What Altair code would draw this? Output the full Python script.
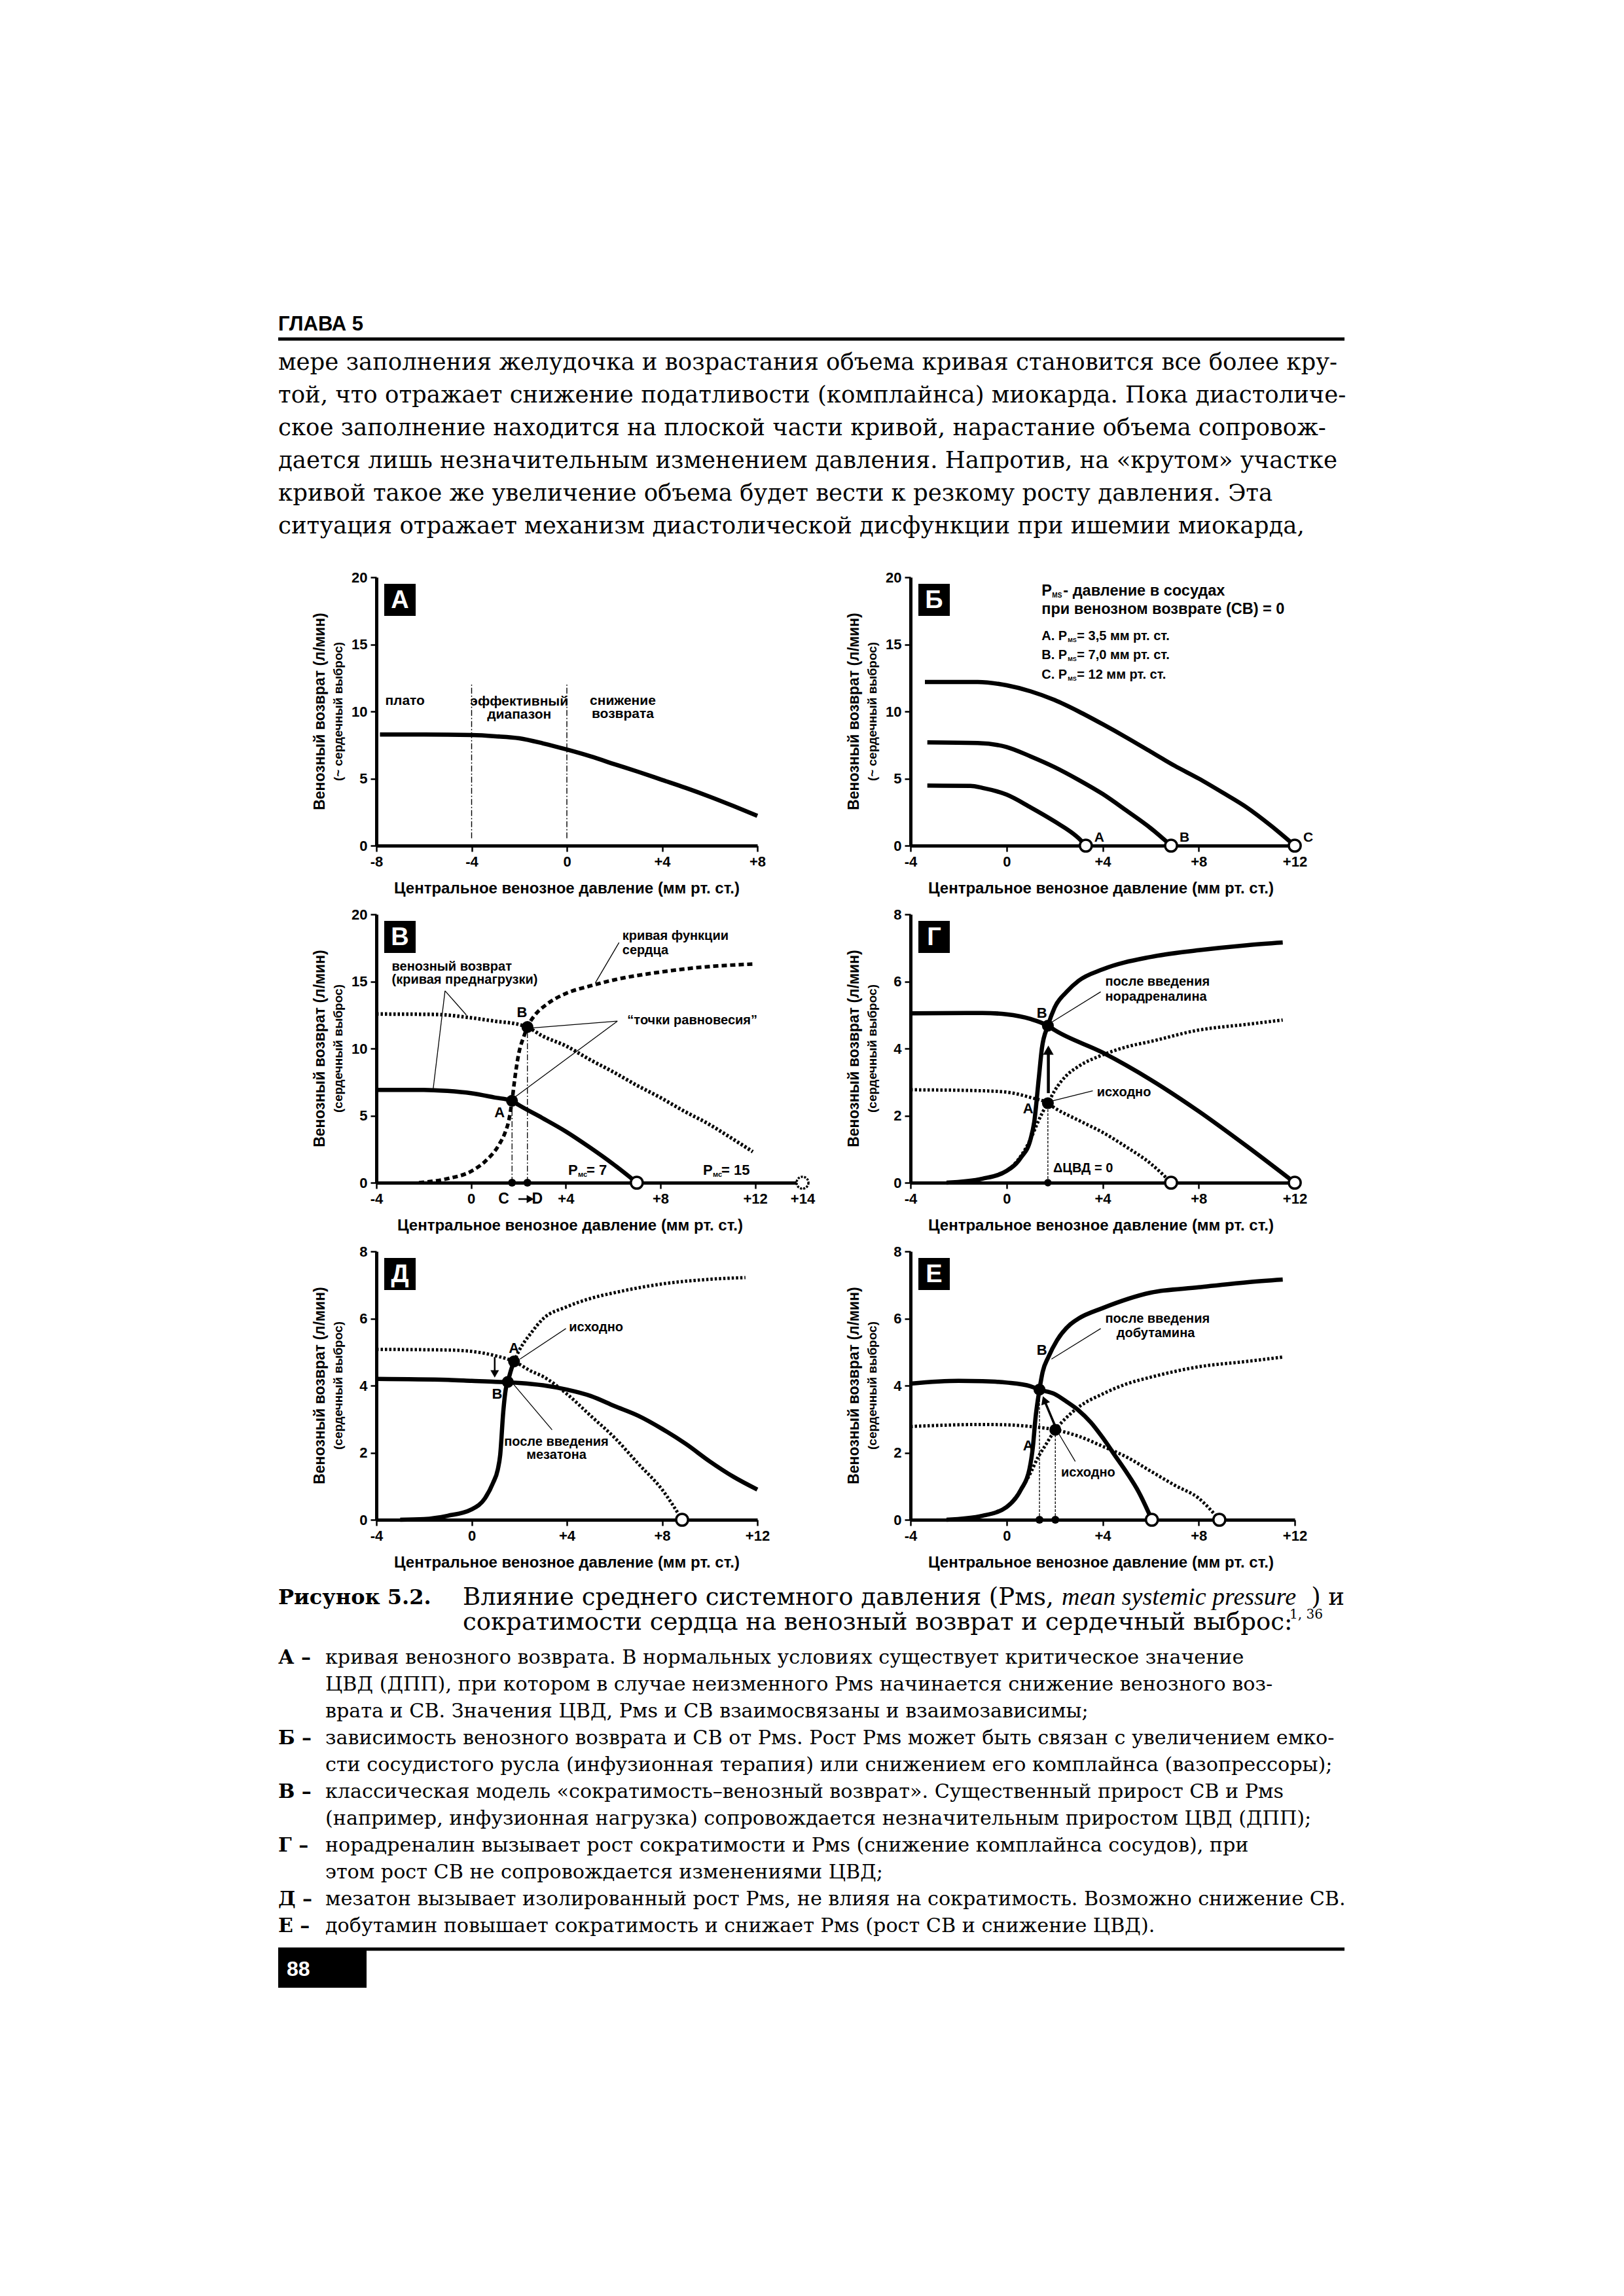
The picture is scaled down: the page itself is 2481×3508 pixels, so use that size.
import altair as alt
import pandas as pd

SERIF = "DejaVu Serif"
SANS = "Liberation Sans, Arial, sans-serif"

# ======================= page text =======================
CHAPTER = "ГЛАВА 5"
BODY_LINES = [
    "мере заполнения желудочка и возрастания объема кривая становится все более кру-",
    "той, что отражает снижение податливости (комплайнса) миокарда. Пока диастоличе-",
    "ское заполнение находится на плоской части кривой, нарастание объема сопровож-",
    "дается лишь незначительным изменением давления. Напротив, на «крутом» участке",
    "кривой такое же увеличение объема будет вести к резкому росту давления. Эта",
    "ситуация отражает механизм диастолической дисфункции при ишемии миокарда,",
]
FIG_LABEL = "Рисунок 5.2."
FIG_TITLE_1A = "Влияние среднего системного давления (Pмѕ,"
FIG_TITLE_1I = "mean systemic pressure"
FIG_TITLE_1B = ") и"
FIG_TITLE_2 = "сократимости сердца на венозный возврат и сердечный выброс:"
FIG_REFS = "1, 36"
ITEM_KEYS = ["А –", "Б –", "В –", "Г –", "Д –", "Е –"]
ITEM_TEXT = [
    ["кривая венозного возврата. В нормальных условиях существует критическое значение",
     "ЦВД (ДПП), при котором в случае неизменного Pмѕ начинается снижение венозного воз-",
     "врата и СВ. Значения ЦВД, Pмѕ и СВ взаимосвязаны и взаимозависимы;"],
    ["зависимость венозного возврата и СВ от Pмѕ. Рост Pмѕ может быть связан с увеличением емко-",
     "сти сосудистого русла (инфузионная терапия) или снижением его комплайнса (вазопрессоры);"],
    ["классическая модель «сократимость–венозный возврат». Существенный прирост СВ и Pмѕ",
     "(например, инфузионная нагрузка) сопровождается незначительным приростом ЦВД (ДПП);"],
    ["норадреналин вызывает рост сократимости и Pмѕ (снижение комплайнса сосудов), при",
     "этом рост СВ не сопровождается изменениями ЦВД;"],
    ["мезатон вызывает изолированный рост Pмѕ, не влияя на сократимость. Возможно снижение СВ."],
    ["добутамин повышает сократимость и снижает Pмѕ (рост СВ и снижение ЦВД)."],
]
PAGE_NO = "88"

Y_TITLE = "Венозный возврат (л/мин)"
Y_SUB_APPROX = "(~ сердечный выброс)"
Y_SUB = "(сердечный выброс)"
X_TITLE = "Центральное венозное давление (мм рт. ст.)"

# ======================= panel data =======================
# A
A_CVP = [-7.85, -6, -4, -3, -2, -1, 0, 1, 2, 3, 4, 5, 6, 7, 8]
A_VR = [8.28, 8.28, 8.24, 8.15, 8.0, 7.62, 7.16, 6.65, 6.07, 5.5, 4.9, 4.3, 3.65, 2.95, 2.22]
A_ZONE_BOUNDS = [-4, 0]
A_ZONE_TEXT = ["плато", "эффективный", "диапазон", "снижение", "возврата"]
A_ZONE_X = [-6.8, -2.0, -2.0, 2.35, 2.35]
A_ZONE_Y = [10.8, 10.75, 9.75, 10.8, 9.8]

# Б
B_A_X = [-3.3, -1.5, -1, 0, 1, 2, 3, 3.3]
B_A_Y = [4.47, 4.45, 4.3, 3.8, 2.85, 1.8, 0.55, 0]
B_B_X = [-3.3, -1.2, 0, 1, 2, 3, 4, 5, 6, 6.85]
B_B_Y = [7.7, 7.65, 7.35, 6.65, 5.85, 4.9, 3.85, 2.6, 1.3, 0]
B_C_X = [-3.4, -1.2, 0, 1, 2, 3, 4, 5, 6, 7, 8, 9, 10, 11, 12]
B_C_Y = [12.2, 12.2, 11.95, 11.5, 10.85, 10.0, 9.05, 8.05, 7.0, 5.95, 5.0, 3.95, 2.85, 1.5, 0]
B_PMS = [3.3, 6.85, 12]
B_PMS_NAMES = ["A", "B", "C"]
B_LEG_X = 1.46
B_LEG_HEAD = ["P", "MS", " - давление в сосудах", "при венозном возврате (СВ) = 0"]
B_LEG_Y = [19.0, 17.6]
B_LEG_ITEMS = [("A. P", " = 3,5 мм рт. ст."), ("B. P", " = 7,0 мм рт. ст."), ("C. P", " = 12 мм рт. ст.")]
B_LEG_ITEM_Y = [15.6, 14.2, 12.75]

# В
V_VR7_X = [-4, -2, -1, 0, 1, 1.73, 2, 3, 4, 5, 6, 7]
V_VR7_Y = [6.92, 6.92, 6.84, 6.67, 6.35, 6.1, 5.8, 4.83, 3.82, 2.65, 1.39, 0]
V_VR15_X = [-4, -1.5, 0, 1, 2, 2.38, 3, 4, 5, 6, 7, 8, 9, 10, 11, 11.9]
V_VR15_Y = [12.57, 12.54, 12.29, 12.04, 11.8, 11.6, 10.95, 10.2, 9.19, 8.26, 7.26, 6.34, 5.33, 4.41, 3.32, 2.31]
V_CF_X = [-2.2, -1, 0, 0.6, 1.17, 1.45, 1.59, 1.73, 1.85, 2.0, 2.25, 2.38, 2.7, 3.2, 4, 5, 6, 8, 10, 12]
V_CF_Y = [0, 0.3, 0.85, 1.6, 2.8, 3.8, 4.6, 6.1, 7.8, 9.5, 11.0, 11.6, 12.5, 13.3, 14.1, 14.65, 15.1, 15.7, 16.1, 16.3]
V_EQ_X = [1.73, 2.38]
V_EQ_Y = [6.1, 11.6]
V_PMS = [7, 14]

# Г
G_VR1_X = [-4, -1, 0, 1, 1.72, 2, 4, 6, 8, 10, 12]
G_VR1_Y = [5.05, 5.06, 5.02, 4.88, 4.68, 4.55, 3.88, 3.07, 2.13, 1.09, 0]
G_VR0_X = [-4, -1, 0, 1, 1.72, 2, 3, 4, 5, 6, 6.5, 6.85]
G_VR0_Y = [2.77, 2.74, 2.70, 2.54, 2.37, 2.23, 1.86, 1.5, 1.06, 0.57, 0.25, 0]
G_CF1_X = [-2.5, -1, 0, 0.6, 1.0, 1.15, 1.34, 1.47, 1.72, 2.0, 2.5, 3, 4, 6, 8, 10, 11.5]
G_CF1_Y = [0, 0.12, 0.35, 0.75, 1.3, 1.8, 3.1, 4.0, 4.68, 5.22, 5.69, 6.02, 6.36, 6.73, 6.93, 7.08, 7.16]
G_CF0_X = [-2.5, -1, 0, 0.6, 1.0, 1.3, 1.5, 1.72, 2, 2.5, 3, 4, 5, 6, 8, 10, 11.5]
G_CF0_Y = [0, 0.12, 0.35, 0.8, 1.3, 1.8, 2.1, 2.37, 2.74, 3.2, 3.47, 3.81, 4.05, 4.21, 4.55, 4.72, 4.85]
G_EQ_X = [1.72, 1.72]
G_EQ_Y = [2.37, 4.68]
G_PMS = [6.85, 12]

# Д
D_VR0_X = [-4, -1, 0, 1, 1.78, 2.5, 3, 4, 5, 6, 7, 8, 8.84]
D_VR0_Y = [5.08, 5.06, 5.02, 4.89, 4.72, 4.43, 4.27, 3.75, 3.10, 2.45, 1.67, 0.9, 0]
D_VR1_X = [-4, -1, 0, 1, 1.52, 2, 3, 4, 5, 6, 7, 8, 9, 10, 11, 12]
D_VR1_Y = [4.2, 4.17, 4.14, 4.11, 4.1, 4.08, 4.01, 3.88, 3.69, 3.39, 3.10, 2.71, 2.26, 1.74, 1.28, 0.9]
D_CF_LOW_X = [-3, -2, -1, 0, 0.56, 0.9, 1.1, 1.2, 1.33, 1.43, 1.52, 1.65, 1.78]
D_CF_LOW_Y = [0, 0.02, 0.12, 0.31, 0.64, 1.1, 1.5, 1.93, 3.23, 3.88, 4.11, 4.45, 4.72]
D_CF_HIGH_X = [1.78, 2, 2.5, 3, 4, 5, 6, 8, 10, 11.5]
D_CF_HIGH_Y = [4.72, 5.05, 5.57, 5.99, 6.35, 6.6, 6.77, 7.03, 7.17, 7.22]
D_EQ_X = [1.78, 1.52]
D_EQ_Y = [4.72, 4.11]
D_PMS = [8.84]

# Е
E_VR1_X = [-4, -2, -1, 0, 1, 1.37, 2, 2.5, 3, 3.5, 4, 4.5, 5, 5.5, 6.05]
E_VR1_Y = [4.06, 4.14, 4.13, 4.09, 3.98, 3.88, 3.75, 3.52, 3.26, 2.91, 2.45, 1.93, 1.41, 0.83, 0]
E_VR0_X = [-4, -1, 0, 1, 2.03, 3, 4, 5, 6, 7, 8, 8.86]
E_VR0_Y = [2.78, 2.84, 2.83, 2.78, 2.68, 2.49, 2.19, 1.87, 1.45, 1.03, 0.64, 0]
E_CF1_X = [-2.5, -1, 0, 0.6, 0.95, 1.1, 1.2, 1.37, 1.5, 1.74, 2.1, 2.66, 3, 4, 6, 8, 10, 11.5]
E_CF1_Y = [0, 0.12, 0.38, 0.9, 1.5, 2.2, 3.0, 3.88, 4.4, 4.85, 5.35, 5.83, 6.0, 6.31, 6.77, 6.93, 7.08, 7.16]
E_CF0_X = [-2.5, -1, 0, 0.6, 1.0, 1.3, 1.6, 2.03, 2.5, 3, 4, 5, 6, 8, 10, 11.5]
E_CF0_Y = [0, 0.12, 0.38, 0.9, 1.4, 1.85, 2.2, 2.68, 3.05, 3.36, 3.75, 4.05, 4.25, 4.56, 4.72, 4.85]
E_EQ_X = [2.03, 1.37]
E_EQ_Y = [2.68, 3.88]
E_PMS = [6.05, 8.86]

# ======================= helpers =======================
def one():
    return pd.DataFrame({"k": [0]})


def df_xy(xs, ys):
    return pd.DataFrame({"x": xs, "y": ys})


def axes(xdom, xticks, ydom, yticks):
    common = dict(grid=False, title=None, domainColor="black", domainWidth=5,
                  tickColor="black", tickWidth=2.5, tickSize=9,
                  labelFont=SANS, labelFontSize=22, labelFontWeight="bold",
                  labelColor="black", labelOverlap=False, labelFlush=False, labelPadding=5)
    X = alt.X("x:Q", scale=alt.Scale(domain=xdom, nice=False, zero=False),
              axis=alt.Axis(values=xticks,
                            labelExpr="datum.value > 0 ? '+' + datum.value : '' + datum.value",
                            **common))
    Y = alt.Y("y:Q", scale=alt.Scale(domain=ydom, nice=False, zero=False),
              axis=alt.Axis(values=yticks, **common))
    return X, Y


def curve(X, Y, xs, ys, width=6.0, dash=None):
    kw = dict(color="black", strokeWidth=width, interpolate="monotone")
    if dash is not None:
        kw["strokeDash"] = dash
    return alt.Chart(df_xy(xs, ys)).mark_line(**kw).encode(x=X, y=Y)


def segs(X, Y, rows, width=1.3, dash=None):
    df = pd.DataFrame(rows, columns=["x", "y", "x2", "y2"])
    kw = dict(color="black", strokeWidth=width)
    if dash is not None:
        kw["strokeDash"] = dash
    return alt.Chart(df).mark_rule(**kw).encode(x=X, y=Y, x2="x2:Q", y2="y2:Q")


def dots(X, Y, xs, ys, size=260, fill="black", sw=0.0, dash=None):
    kw = dict(shape="circle", filled=True, fill=fill, stroke="black",
              strokeWidth=sw, size=size, opacity=1)
    if dash is not None:
        kw["strokeDash"] = dash
    return alt.Chart(df_xy(xs, ys)).mark_point(**kw).encode(x=X, y=Y)


def head(X, Y, x, y, angle, size=230):
    return alt.Chart(df_xy([x], [y])).mark_point(
        shape="triangle-up", filled=True, color="black", size=size, angle=angle, opacity=1
    ).encode(x=X, y=Y)


def labels(X, Y, xs, ys, texts, size=20, align="left", dx=0, dy=0):
    df = pd.DataFrame({"x": xs, "y": ys, "t": texts})
    return alt.Chart(df).mark_text(font=SANS, fontSize=size, fontWeight="bold", align=align,
                                   baseline="middle", dx=dx, dy=dy, color="black"
                                   ).encode(x=X, y=Y, text="t:N")


def frame(letter, h, sub, xcenter):
    return [
        alt.Chart(one()).mark_rect(color="black").encode(
            x=alt.value(12), x2=alt.value(60), y=alt.value(10), y2=alt.value(59)),
        alt.Chart(one()).mark_text(text=letter, color="white", font=SANS, fontWeight="bold",
                                   fontSize=38, align="center", baseline="middle"
                                   ).encode(x=alt.value(36), y=alt.value(36)),
        alt.Chart(one()).mark_text(text=Y_TITLE, angle=270, font=SANS, fontWeight="bold",
                                   fontSize=23, align="center", baseline="middle", color="black"
                                   ).encode(x=alt.value(-86), y=alt.value(h / 2)),
        alt.Chart(one()).mark_text(text=sub, angle=270, font=SANS, fontWeight="bold",
                                   fontSize=19, align="center", baseline="middle", color="black"
                                   ).encode(x=alt.value(-58), y=alt.value(h / 2)),
        alt.Chart(one()).mark_text(text=X_TITLE, font=SANS, fontWeight="bold", fontSize=24,
                                   align="center", baseline="middle", color="black"
                                   ).encode(x=alt.value(xcenter), y=alt.value(h + 66)),
    ]


def spacer(w, h):
    return alt.Chart(one()).mark_point(opacity=0).encode(
        x=alt.value(0), y=alt.value(0)).properties(width=w, height=h)


def page_text(df, size, font=SERIF, weight="normal", style="normal", align="left",
              color="black", baseline="middle"):
    return alt.Chart(df).mark_text(font=font, fontSize=size, fontWeight=weight, fontStyle=style,
                                   align=align, baseline=baseline, color=color
                                   ).encode(x=alt.X("px:Q", scale=None, axis=None),
                                            y=alt.Y("py:Q", scale=None, axis=None),
                                            text="t:N")


def tdf(texts, xs, ys):
    return pd.DataFrame({"t": texts, "px": xs, "py": ys})


# ======================= page grid =======================
PAGE_W, PAGE_H = 2481, 3508
COL1_X, COL2_X = 575, 1391          # page x of the two plot columns
PW, PH, VW, RW = 582, 410, 651, 587  # plot sizes
GAP_ROW = 105
HEAD_H = 879 - GAP_ROW
CAP_TOP = 879 + 3 * (PH + GAP_ROW)
CAP_H = PAGE_H - CAP_TOP

THIN = 1.3
DASHDOT = [9, 3, 2, 3]
DOT = [3.5, 3]

# ======================= panel A =======================
X, Y = axes([-8, 8], [-8, -4, 0, 4, 8], [0, 20], [0, 5, 10, 15, 20])
panel_A = alt.layer(
    segs(X, Y, [(b, 0.55, b, 12.0) for b in A_ZONE_BOUNDS], width=1.4, dash=DASHDOT),
    curve(X, Y, A_CVP, A_VR, width=6.5),
    labels(X, Y, A_ZONE_X, A_ZONE_Y, A_ZONE_TEXT, size=21, align="center"),
    *frame("A", PH, Y_SUB_APPROX, PW / 2),
).properties(width=PW, height=PH)

# ======================= panel Б =======================
X, Y = axes([-4, 12], [-4, 0, 4, 8, 12], [0, 20], [0, 5, 10, 15, 20])
leg = [
    labels(X, Y, [B_LEG_X], [B_LEG_Y[0]], [B_LEG_HEAD[0]], size=23.5),
    labels(X, Y, [B_LEG_X], [B_LEG_Y[0]], [B_LEG_HEAD[1]], size=10, dx=16, dy=7),
    labels(X, Y, [B_LEG_X], [B_LEG_Y[0]], [B_LEG_HEAD[2]], size=23.5, dx=33),
    labels(X, Y, [B_LEG_X], [B_LEG_Y[1]], [B_LEG_HEAD[3]], size=23.5),
    labels(X, Y, [B_LEG_X] * 3, B_LEG_ITEM_Y, [a for a, _ in B_LEG_ITEMS], size=20),
    labels(X, Y, [B_LEG_X] * 3, B_LEG_ITEM_Y, ["MS"] * 3, size=9, dx=40, dy=6),
    labels(X, Y, [B_LEG_X] * 3, B_LEG_ITEM_Y, [b for _, b in B_LEG_ITEMS], size=20, dx=54),
]
panel_B = alt.layer(
    curve(X, Y, B_A_X, B_A_Y, width=6.5),
    curve(X, Y, B_B_X, B_B_Y, width=6.5),
    curve(X, Y, B_C_X, B_C_Y, width=6.5),
    dots(X, Y, B_PMS, [0, 0, 0], size=330, fill="white", sw=3.5),
    labels(X, Y, B_PMS, [0, 0, 0], B_PMS_NAMES, size=21, dx=13, dy=-12),
    *leg,
    *frame("Б", PH, Y_SUB_APPROX, PW / 2),
).properties(width=RW, height=PH)

# ======================= panel В =======================
X, Y = axes([-4, 14], [-4, 0, 4, 8, 12, 14], [0, 20], [0, 5, 10, 15, 20])
cd = pd.DataFrame({"x": [V_EQ_X[0] + 0.27], "x2": [V_EQ_X[1] + 0.05]})
panel_V = alt.layer(
    segs(X, Y, [(x, 0, x, y) for x, y in zip(V_EQ_X, V_EQ_Y)], width=THIN, dash=DASHDOT),
    curve(X, Y, V_VR7_X, V_VR7_Y, width=6.5),
    curve(X, Y, V_VR15_X, V_VR15_Y, width=5.5, dash=DOT),
    curve(X, Y, V_CF_X, V_CF_Y, width=5.5, dash=[8, 5]),
    segs(X, Y, [(-1.1, 14.3, -1.6, 7.0), (-1.1, 14.3, -0.2, 12.5),
                (6.25, 17.9, 5.25, 14.9),
                (6.18, 12.04, 2.56, 11.53), (6.18, 12.04, 1.87, 6.4)], width=THIN),
    dots(X, Y, V_EQ_X, V_EQ_Y, size=330),
    dots(X, Y, V_EQ_X, [0, 0], size=150),
    dots(X, Y, [V_PMS[0]], [0], size=330, fill="white", sw=3.5),
    dots(X, Y, [V_PMS[1]], [0], size=330, fill="white", sw=3.5, dash=[3, 2]),
    labels(X, Y, [-3.35, -3.35, 6.39, 6.39, 6.6],
           [16.1, 15.1, 18.4, 17.3, 12.1],
           ["венозный возврат", "(кривая преднагрузки)", "кривая функции", "сердца",
            "“точки равновесия”"], size=20),
    labels(X, Y, [2.15, 1.2], [12.7, 5.2], ["B", "A"], size=22, align="center"),
    labels(X, Y, [4.1, 9.8], [0.95, 0.95], ["P", "P"], size=22),
    labels(X, Y, [4.1, 9.8], [0.95, 0.95], ["мс", "мс"], size=11, dx=15, dy=7),
    labels(X, Y, [4.1, 9.8], [0.95, 0.95], [" = 7", " = 15"], size=22, dx=28),
    labels(X, Y, [1.38, 2.8], [0, 0], ["C", "D"], size=23, align="center", dy=25),
    alt.Chart(cd).mark_rule(color="black", strokeWidth=2.5).encode(
        x=X, x2="x2:Q", y=alt.value(PH + 25)),
    alt.Chart(pd.DataFrame({"x": [V_EQ_X[1] + 0.12]})).mark_point(
        shape="triangle-up", filled=True, color="black", size=160, angle=90, opacity=1
    ).encode(x=X, y=alt.value(PH + 25)),
    *frame("В", PH, Y_SUB, 296),
).properties(width=VW, height=PH)

# ======================= panel Г =======================
X, Y = axes([-4, 12], [-4, 0, 4, 8, 12], [0, 8], [0, 2, 4, 6, 8])
panel_G = alt.layer(
    segs(X, Y, [(G_EQ_X[0], 0, G_EQ_X[0], G_EQ_Y[0])], width=THIN, dash=[4, 2]),
    curve(X, Y, G_VR0_X, G_VR0_Y, width=5.0, dash=DOT),
    curve(X, Y, G_CF0_X, G_CF0_Y, width=5.0, dash=DOT),
    curve(X, Y, G_VR1_X, G_VR1_Y, width=6.5),
    curve(X, Y, G_CF1_X, G_CF1_Y, width=6.5),
    segs(X, Y, [(1.74, 2.67, 1.74, 3.85)], width=4.5),
    head(X, Y, 1.74, 3.95, 0, size=260),
    segs(X, Y, [(3.92, 5.69, 1.87, 4.78), (3.59, 2.74, 1.87, 2.43)], width=THIN),
    dots(X, Y, G_EQ_X, G_EQ_Y, size=330),
    dots(X, Y, [G_EQ_X[0]], [0], size=130),
    dots(X, Y, G_PMS, [0, 0], size=330, fill="white", sw=3.5),
    labels(X, Y, [4.11, 4.11, 3.76, 1.94], [5.99, 5.55, 2.7, 0.42],
           ["после введения", "норадреналина", "исходно", "ΔЦВД = 0"], size=20),
    labels(X, Y, [0.9, 1.47], [2.2, 5.05], ["A", "B"], size=22, align="center"),
    *frame("Г", PH, Y_SUB, PW / 2),
).properties(width=RW, height=PH)

# ======================= panel Д =======================
X, Y = axes([-4, 12], [-4, 0, 4, 8, 12], [0, 8], [0, 2, 4, 6, 8])
panel_D = alt.layer(
    curve(X, Y, D_VR0_X, D_VR0_Y, width=5.0, dash=DOT),
    curve(X, Y, D_CF_HIGH_X, D_CF_HIGH_Y, width=5.0, dash=DOT),
    curve(X, Y, D_VR1_X, D_VR1_Y, width=6.5),
    curve(X, Y, D_CF_LOW_X, D_CF_LOW_Y, width=6.5),
    segs(X, Y, [(0.97, 4.85, 0.97, 4.42)], width=2.5),
    head(X, Y, 0.97, 4.35, 180, size=170),
    segs(X, Y, [(3.96, 5.7, 2.03, 4.79), (3.38, 2.68, 1.71, 4.08)], width=THIN),
    dots(X, Y, D_EQ_X, D_EQ_Y, size=330),
    dots(X, Y, D_PMS, [0], size=330, fill="white", sw=3.5),
    labels(X, Y, [4.09], [5.73], ["исходно"], size=20),
    labels(X, Y, [3.56, 3.56], [2.32, 1.93], ["после введения", "мезатона"], size=20,
           align="center"),
    labels(X, Y, [1.78, 1.07], [5.12, 3.75], ["A", "B"], size=22, align="center"),
    *frame("Д", PH, Y_SUB, PW / 2),
).properties(width=PW, height=PH)

# ======================= panel Е =======================
X, Y = axes([-4, 12], [-4, 0, 4, 8, 12], [0, 8], [0, 2, 4, 6, 8])
panel_E = alt.layer(
    segs(X, Y, [(x, 0, x, y) for x, y in zip(E_EQ_X, E_EQ_Y)], width=THIN, dash=[4, 2]),
    curve(X, Y, E_VR0_X, E_VR0_Y, width=5.0, dash=DOT),
    curve(X, Y, E_CF0_X, E_CF0_Y, width=5.0, dash=DOT),
    curve(X, Y, E_VR1_X, E_VR1_Y, width=6.5),
    curve(X, Y, E_CF1_X, E_CF1_Y, width=6.5),
    segs(X, Y, [(2.03, 2.78, 1.62, 3.48)], width=3.5),
    head(X, Y, 1.57, 3.57, 339, size=200),
    segs(X, Y, [(3.92, 5.7, 1.87, 4.79), (2.86, 1.74, 2.13, 2.62)], width=THIN),
    dots(X, Y, E_EQ_X, E_EQ_Y, size=330),
    dots(X, Y, E_EQ_X, [0, 0], size=150),
    dots(X, Y, E_PMS, [0, 0], size=330, fill="white", sw=3.5),
    labels(X, Y, [4.11, 4.58, 2.27], [5.99, 5.57, 1.41],
           ["после введения", "добутамина", "исходно"], size=20),
    labels(X, Y, [0.9, 1.47], [2.2, 5.05], ["A", "B"], size=22, align="center"),
    *frame("Е", PH, Y_SUB, PW / 2),
).properties(width=RW, height=PH)

# ======================= header cell (page coords shifted by column origin) =======================
hx = lambda x: x - COL1_X
header = alt.layer(
    alt.Chart(one()).mark_rect(color="white").encode(
        x=alt.value(hx(0)), x2=alt.value(hx(PAGE_W)), y=alt.value(0), y2=alt.value(2)),
    page_text(tdf([CHAPTER], [hx(425)], [493]), 31, font=SANS, weight="bold"),
    alt.Chart(one()).mark_rule(color="black", strokeWidth=5).encode(
        x=alt.value(hx(425)), x2=alt.value(hx(2054)), y=alt.value(515)),
    page_text(tdf(BODY_LINES, [hx(425)] * len(BODY_LINES),
                  [551 + 50 * i for i in range(len(BODY_LINES))]), 35.5),
).properties(width=VW, height=HEAD_H)

# ======================= caption cell =======================
cy = lambda y: y - CAP_TOP
cap_rows = []
k = 0
for key, lines in zip(ITEM_KEYS, ITEM_TEXT):
    for j, ln in enumerate(lines):
        cap_rows.append((key if j == 0 else "", ln, cy(2530 + 41 * k)))
        k += 1
keys_df = tdf([r[0] for r in cap_rows if r[0]], [hx(425)] * len(ITEM_KEYS),
              [r[2] for r in cap_rows if r[0]])
items_df = tdf([r[1] for r in cap_rows], [hx(497)] * len(cap_rows), [r[2] for r in cap_rows])
caption = alt.layer(
    page_text(tdf([FIG_LABEL], [hx(425)], [cy(2438)]), 32, weight="bold"),
    page_text(tdf([FIG_TITLE_1A], [hx(707)], [cy(2438)]), 37),
    page_text(tdf([FIG_TITLE_1I], [hx(1622)], [cy(2438)]), 38, font="Liberation Serif",
              style="italic"),
    page_text(tdf([FIG_TITLE_1B], [hx(2054)], [cy(2438)]), 37, align="right"),
    page_text(tdf([FIG_TITLE_2], [hx(707)], [cy(2476)]), 37),
    page_text(tdf([FIG_REFS], [hx(1970)], [cy(2464)]), 20),
    page_text(keys_df, 30, weight="bold"),
    page_text(items_df, 30.2),
    alt.Chart(one()).mark_rule(color="black", strokeWidth=5).encode(
        x=alt.value(hx(425)), x2=alt.value(hx(2054)), y=alt.value(cy(2975))),
    alt.Chart(one()).mark_rect(color="black").encode(
        x=alt.value(hx(425)), x2=alt.value(hx(560)), y=alt.value(cy(2977)),
        y2=alt.value(cy(3034))),
    page_text(tdf([PAGE_NO], [hx(438)], [cy(3006)]), 32, font=SANS, weight="bold",
              color="white"),
).properties(width=VW, height=CAP_H)

chart = alt.concat(
    header, spacer(RW, 10),
    panel_A, panel_B,
    panel_V, panel_G,
    panel_D, panel_E,
    caption, spacer(RW, 10),
    columns=2,
    spacing={"row": GAP_ROW, "column": COL2_X - COL1_X - VW},
    bounds="flush",
    align="each",
).properties(padding=0, background="white").configure_view(stroke=None)

chart.save("out.html", embed_options={"renderer": "svg", "actions": False})
